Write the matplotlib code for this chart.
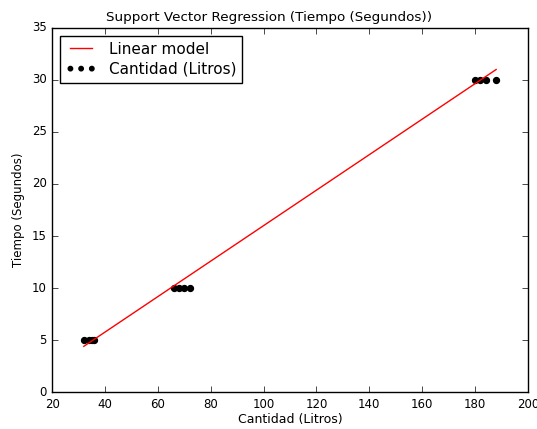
import matplotlib
matplotlib.use('Agg')
import matplotlib.pyplot as plt
import numpy as np

plt.style.use('classic')

# data
cantidad = [32, 34, 35, 36, 66, 68, 70, 72, 180, 182, 184, 188]
tiempo = [5, 5, 5, 5, 10, 10, 10, 10, 30, 30, 30, 30]
# fitted line (end points)
line_x = [32, 188]
line_y = [4.4, 31.0]

fig = plt.figure(figsize=(5.37, 4.29), dpi=100)
ax = fig.add_axes([0.097, 0.086, 0.886, 0.849])

ax.plot(line_x, line_y, color='red', linewidth=1, label='Linear model')
ax.scatter(cantidad, tiempo, c='black', s=18, label='Cantidad (Litros)')

ax.set_xlim(20, 200)
ax.set_ylim(0, 35)
ax.set_xticks(np.arange(20, 201, 20))
ax.set_yticks(np.arange(0, 36, 5))
ax.tick_params(labelsize=8.5)
ax.set_xlabel('Cantidad (Litros)', fontsize=9, labelpad=2)
ax.set_ylabel('Tiempo (Segundos)', fontsize=8.5)
ax.set_title('Support Vector Regression (Tiempo (Segundos))', fontsize=9.7, x=0.455)
ax.legend(loc='upper left', fontsize=11, scatterpoints=3, scatteryoffsets=[0.5],
          markerscale=0.75, labelspacing=0.35, borderpad=0.4)

fig.savefig('out.png', dpi=100)
